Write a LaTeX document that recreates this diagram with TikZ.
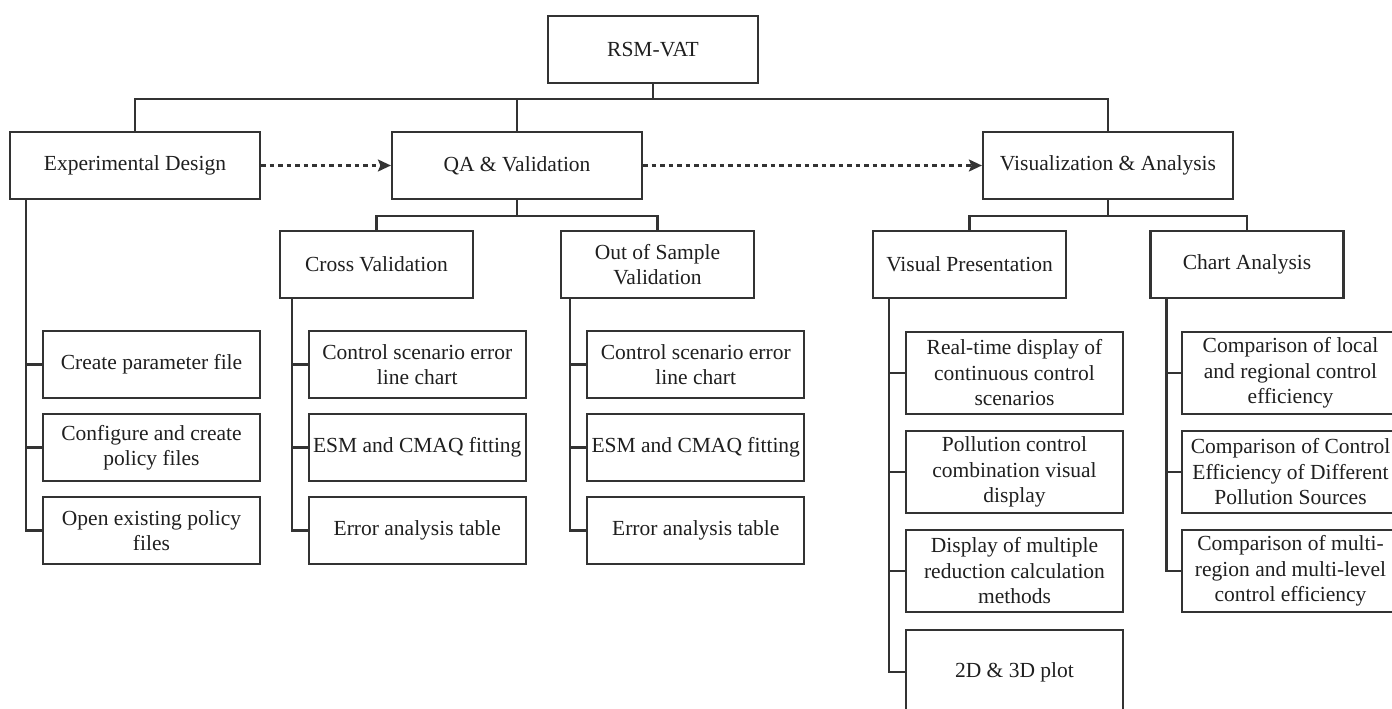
\documentclass[tikz,border=0pt]{standalone}
\usepackage{fontspec}
\setmainfont{Liberation Serif}
\usetikzlibrary{arrows.meta}
\begin{document}
\begin{tikzpicture}[x=1pt,y=-1pt,
  box/.style={draw=black!80, line width=2.2pt, fill=white, inner sep=0pt, align=center,
    font=\fontsize{21.5}{25.5}\selectfont, text=black!88, minimum height=67pt},
  top/.style={box, minimum width=250pt},
  mid/.style={box, minimum width=193pt},
  leaf/.style={box, minimum width=217pt},
  tall/.style={leaf, minimum height=82pt},
  link/.style={draw=black!80, line width=2.2pt},
  flow/.style={link, dash pattern=on 4.5pt off 4pt, -{Stealth[length=13pt,width=12pt,inset=2.5pt]}}
]
\useasboundingbox (0,0) rectangle (1392,709);
\fill[white] (0,0) rectangle (1392,709);
\clip (0,0) rectangle (1392,709);

% level 0
\node[box, minimum width=210pt] (root) at (653,49.5) {RSM-VAT};
% level 1
\node[top] (ed) at (135,165.5) {Experimental Design};
\node[top] (qa) at (517,165.5) {QA \& Validation};
\node[top] (va) at (1108,165.5) {Visualization \& Analysis};
% level 2
\node[mid] (cv) at (376.5,264.5) {Cross Validation};
\node[mid] (osv) at (657.5,264.5) {Out of Sample\\Validation};
\node[mid] (vp) at (969.5,264.5) {Visual Presentation};
\node[mid] (ca) at (1247,264.5) {Chart Analysis};
% leaves of Experimental Design
\node[leaf] (e1) at (151.5,364.5) {Create parameter file};
\node[leaf] (e2) at (151.5,447.5) {Configure and create\\policy files};
\node[leaf] (e3) at (151.5,530.5) {Open existing policy\\files};
% leaves of Cross Validation
\node[leaf] (c1) at (417.25,364.5) {Control scenario error\\line chart};
\node[leaf] (c2) at (417.25,447.5) {ESM and CMAQ fitting};
\node[leaf] (c3) at (417.25,530.5) {Error analysis table};
% leaves of Out of Sample Validation
\node[leaf] (o1) at (695.75,364.5) {Control scenario error\\line chart};
\node[leaf] (o2) at (695.75,447.5) {ESM and CMAQ fitting};
\node[leaf] (o3) at (695.75,530.5) {Error analysis table};
% leaves of Visual Presentation
\node[tall] (v1) at (1014.5,373) {Real-time display of\\continuous control\\scenarios};
\node[tall] (v2) at (1014.5,472) {Pollution control\\combination visual\\display};
\node[tall] (v3) at (1014.5,571) {Display of multiple\\reduction calculation\\methods};
\node[leaf, minimum height=84pt] (v4) at (1014.5,672) {2D \& 3D plot};
% leaves of Chart Analysis
\node[tall] (a1) at (1290.5,373) {Comparison of local\\and regional control\\efficiency};
\node[tall] (a2) at (1290.5,472) {Comparison of Control\\Efficiency of Different\\Pollution Sources};
\node[tall] (a3) at (1290.5,571) {Comparison of multi-\\region and multi-level\\control efficiency};

% tree buses
\coordinate (bus) at (653,99);
\coordinate (qabus) at (517,216);
\coordinate (vabus) at (1108,216);
\draw[link] (root.south) -- (bus);
\draw[link] (bus) -| (ed.north);
\draw[link] (bus) -| (qa.north);
\draw[link] (bus) -| (va.north);
\draw[link] (qa.south) -- (qabus);
\draw[link] (qabus) -| (cv.north);
\draw[link] (qabus) -| (osv.north);
\draw[link] (va.south) -- (vabus);
\draw[link] (vabus) -| (vp.north);
\draw[link] (vabus) -| (ca.north);

% spines
\draw[link] ([xshift=17pt]ed.south west) |- (e3.west);
\draw[link] ([xshift=17pt]ed.south west |- e1.west) -- (e1.west);
\draw[link] ([xshift=17pt]ed.south west |- e2.west) -- (e2.west);

\draw[link] ([xshift=13pt]cv.south west) |- (c3.west);
\draw[link] ([xshift=13pt]cv.south west |- c1.west) -- (c1.west);
\draw[link] ([xshift=13pt]cv.south west |- c2.west) -- (c2.west);

\draw[link] ([xshift=10pt]osv.south west) |- (o3.west);
\draw[link] ([xshift=10pt]osv.south west |- o1.west) -- (o1.west);
\draw[link] ([xshift=10pt]osv.south west |- o2.west) -- (o2.west);

\draw[link] ([xshift=17pt]vp.south west) |- (v4.west);
\draw[link] ([xshift=17pt]vp.south west |- v1.west) -- (v1.west);
\draw[link] ([xshift=17pt]vp.south west |- v2.west) -- (v2.west);
\draw[link] ([xshift=17pt]vp.south west |- v3.west) -- (v3.west);

\draw[link] ([xshift=17pt]ca.south west) |- (a3.west);
\draw[link] ([xshift=17pt]ca.south west |- a1.west) -- (a1.west);
\draw[link] ([xshift=17pt]ca.south west |- a2.west) -- (a2.west);

% flow arrows
\draw[flow] (ed.east) -- (qa.west);
\draw[flow] (qa.east) -- (va.west);
\end{tikzpicture}
\end{document}
